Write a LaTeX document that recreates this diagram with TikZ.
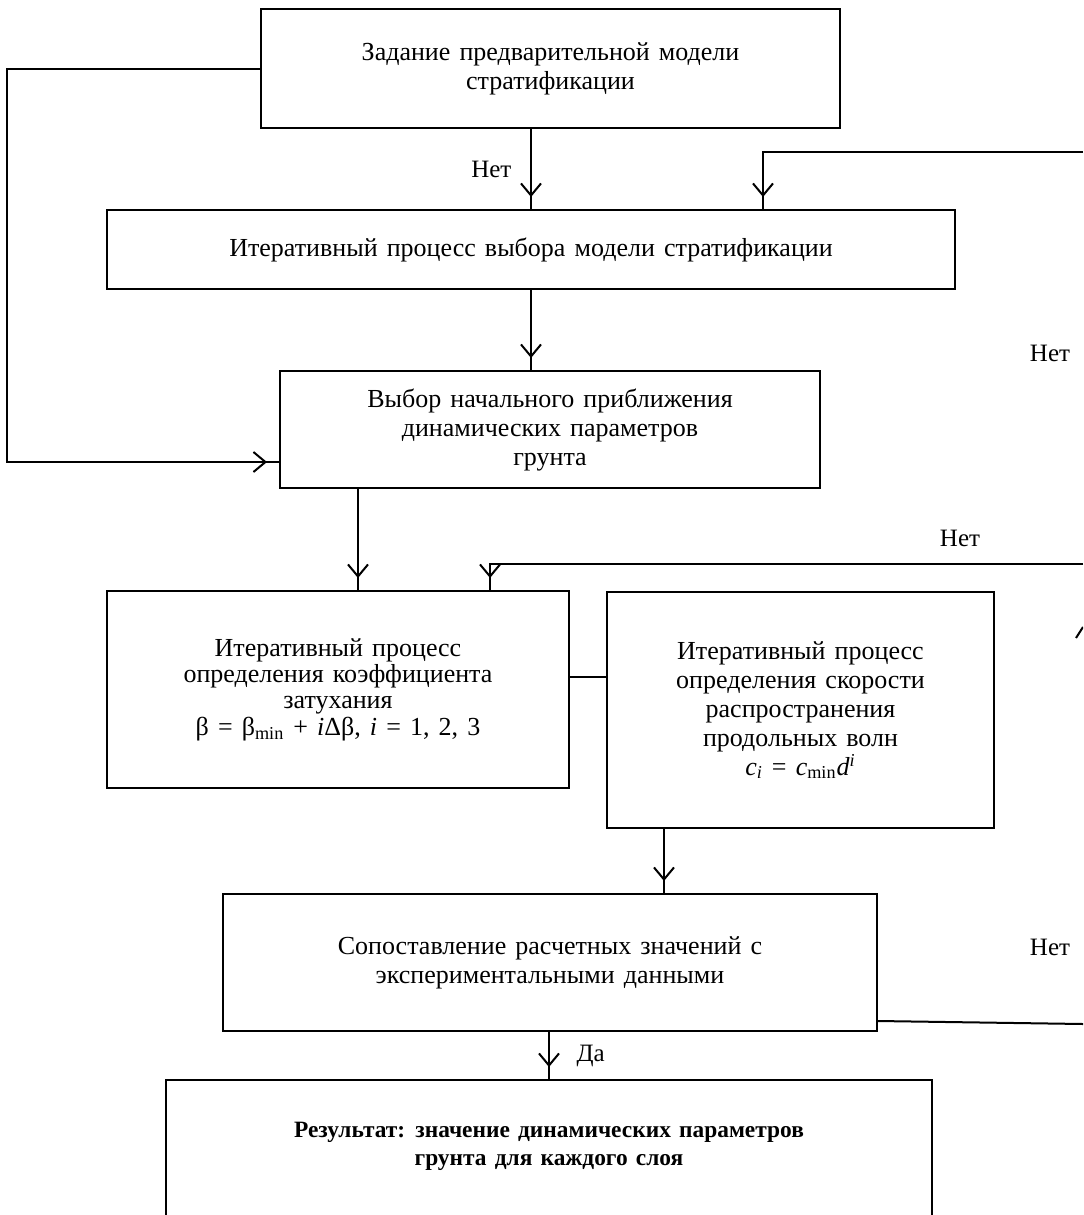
\documentclass[tikz,border=0pt]{standalone}
\usepackage{fontspec}
\setmainfont{Liberation Serif}[WordSpace=1.4]
\usetikzlibrary{arrows.meta,decorations.markings}
\tikzstyle{block} = [draw, rectangle, align=center, inner sep=2pt, font=\fontsize{13}{14.5}\selectfont]
\tikzstyle{lbl} = [font=\fontsize{12.5}{14.5}\selectfont]
\tikzstyle{output} = [coordinate]
\tikzset{varr/.style={postaction={decorate}, decoration={markings, mark=at position -6pt with {\arrow{Straight Barb[length=6pt, width=10pt, line width=1pt]}}}}}

\begin{document}
\begin{tikzpicture}[x=0.5pt, y=-0.5pt, line width=1pt, node distance=90pt]
\useasboundingbox (0,0) rectangle (1083,1215);
\clip (0,0) rectangle (1083,1215);

\node [block, minimum width=289.5pt, minimum height=59.5pt] (model) at (550.5,68.5) {Задание предварительной модели\\стратификации};
\node [block, below of=model, node distance=90.5pt, xshift=-9.75pt, minimum width=424pt, minimum height=39.5pt] (iter) {Итеративный процесс выбора модели стратификации};
\node [block, below of=iter, xshift=9.5pt, minimum width=270pt, minimum height=58.5pt] (start) {Выбор начального приближения\\динамических параметров\\грунта};
\node [block, below of=start, node distance=130pt, xshift=-106pt, minimum width=231pt, minimum height=98.5pt, font=\fontsize{13}{13.2}\selectfont] (attn) {Итеративный процесс\\определения коэффициента\\затухания\\β = β\textsubscript{min} + \textit{i}Δβ, \textit{i} = 1, 2, 3};
\node [block, right of=attn, node distance=231.25pt, yshift=-10.25pt, minimum width=193.5pt, minimum height=118pt] (speed) {Итеративный процесс\\определения скорости\\распространения\\продольных волн\\\textit{c}\textsubscript{\textit{i}} = \textit{c}\textsubscript{min}\textit{d}\textsuperscript{\textit{i}}};
\node [block, below of=start, node distance=266.5pt, minimum width=327pt, minimum height=68.5pt] (cmp) {Сопоставление расчетных значений с\\экспериментальными данными};
\node [block, anchor=north, minimum width=383pt, minimum height=150pt] (resbox) at (549,1079) {};
\node [lbl, align=center, font=\bfseries\fontsize{11.7}{14}\selectfont] (res) at (549,1146) {Результат: значение динамических параметров\\грунта для каждого слоя};

\node [output] (feed1) at (1083,152) {};
\node [output] (feed2) at (1083,564) {};
\node [output] (feed3) at (1083,1024) {};

\node [lbl] (no2) at (1050,353) {Нет};
\node [lbl] (no3) at (960,538) {Нет};
\node [lbl] (no4) at (1050,947) {Нет};

\draw [varr] (model.south -| iter.north) -- node [lbl, left=6pt] {Нет} (iter.north);
\draw [varr] (feed1) -| ([xshift=116pt]iter.north);
\draw [varr] (iter.south) -- (iter.south |- start.north);
\draw [varr] (model.west) -- ++(-253,0) |- ([yshift=-16.25pt]start.west);

\draw [varr] ([xshift=-96pt]start.south) -- ([xshift=-96pt]start.south |- attn.north);
\draw [varr] (feed2) -| ([xshift=76pt]attn.north);
\draw ([yshift=6.25pt]attn.east) -- ([yshift=6.25pt]attn.east -| speed.west);
\draw [varr] ([xshift=-68.25pt]speed.south) -- ([xshift=-68.25pt]speed.south |- cmp.north);

\draw ([yshift=5.5pt]cmp.south east) -- (feed3);
\draw [varr] (cmp.south -| resbox.north) -- node [lbl, right=10pt] {Да} (resbox.north);

\draw (1076,638) -- (1083,627);

\end{tikzpicture}
\end{document}
